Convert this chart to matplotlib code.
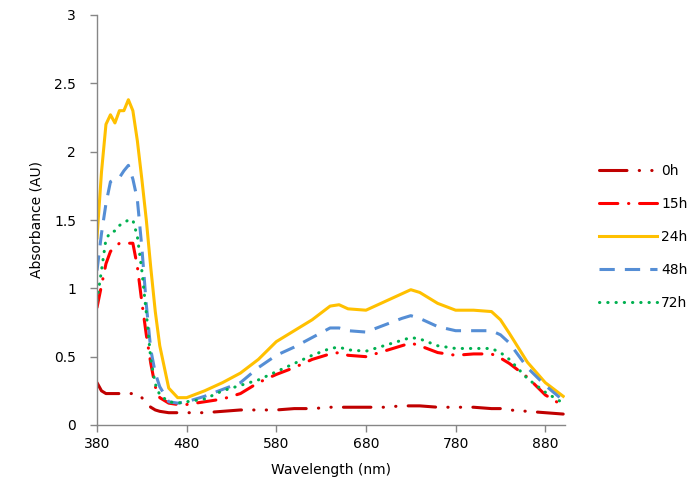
import matplotlib
matplotlib.use("Agg")
import matplotlib.pyplot as plt

# absorbance spectra sampled over the visible range
wavelength = [380, 385, 390, 395, 400, 405, 410, 415, 420, 425, 430, 435, 440, 445,
              450, 460, 470, 480, 500, 520, 540, 560, 580, 600, 620, 640, 650, 660,
              680, 700, 720, 730, 740, 760, 780, 800, 820, 830, 840, 860, 880, 900]

abs_0h = [0.31, 0.25, 0.23, 0.23, 0.23, 0.23, 0.23, 0.23, 0.23, 0.23, 0.20, 0.16, 0.13, 0.11,
          0.10, 0.09, 0.09, 0.09, 0.09, 0.10, 0.11, 0.11, 0.11, 0.12, 0.12, 0.13, 0.13, 0.13,
          0.13, 0.13, 0.14, 0.14, 0.14, 0.13, 0.13, 0.13, 0.12, 0.12, 0.11, 0.10, 0.09, 0.08]
abs_15h = [0.86, 1.02, 1.18, 1.27, 1.30, 1.33, 1.33, 1.33, 1.33, 1.16, 0.90, 0.66, 0.45, 0.28,
           0.20, 0.16, 0.15, 0.15, 0.17, 0.19, 0.23, 0.31, 0.37, 0.42, 0.48, 0.52, 0.53, 0.51,
           0.50, 0.54, 0.58, 0.60, 0.58, 0.53, 0.51, 0.52, 0.52, 0.49, 0.45, 0.35, 0.22, 0.14]
abs_24h = [1.37, 1.85, 2.20, 2.27, 2.21, 2.30, 2.30, 2.38, 2.30, 2.08, 1.80, 1.50, 1.15, 0.83,
           0.58, 0.27, 0.20, 0.20, 0.25, 0.31, 0.38, 0.48, 0.61, 0.69, 0.77, 0.87, 0.88, 0.85,
           0.84, 0.90, 0.96, 0.99, 0.97, 0.89, 0.84, 0.84, 0.83, 0.77, 0.67, 0.46, 0.31, 0.21]
abs_48h = [1.13, 1.40, 1.62, 1.78, 1.80, 1.81, 1.86, 1.90, 1.80, 1.65, 1.30, 0.88, 0.55, 0.38,
           0.28, 0.17, 0.16, 0.17, 0.21, 0.26, 0.31, 0.42, 0.51, 0.57, 0.64, 0.71, 0.71, 0.69,
           0.68, 0.73, 0.78, 0.80, 0.78, 0.72, 0.69, 0.69, 0.69, 0.66, 0.60, 0.42, 0.29, 0.18]
abs_72h = [0.91, 1.13, 1.36, 1.41, 1.42, 1.46, 1.48, 1.50, 1.50, 1.38, 1.13, 0.82, 0.48, 0.30,
           0.22, 0.17, 0.16, 0.17, 0.19, 0.25, 0.29, 0.33, 0.39, 0.45, 0.51, 0.56, 0.57, 0.55,
           0.54, 0.58, 0.62, 0.64, 0.63, 0.58, 0.56, 0.56, 0.56, 0.53, 0.48, 0.34, 0.24, 0.16]

labels = ["0h", "15h", "24h", "48h", "72h"]
series = [abs_0h, abs_15h, abs_24h, abs_48h, abs_72h]
colors = ["#C00000", "#FF0000", "#FFC000", "#558ED5", "#00B050"]
# dash patterns in linewidth units (None = solid)
dashes = [(9, 4, 0.1, 4, 0.1, 4), (6, 3.5, 0.1, 3.5), None, (5, 3.3), (0.1, 2.6)]

plt.rcParams["font.family"] = ["DejaVu Sans"]

fig = plt.figure(figsize=(6.93, 4.95), dpi=100)
ax = fig.add_axes([97 / 693, 1 - 425 / 495, (565 - 97) / 693, (425 - 15) / 495])

for lab, y, c, d in zip(labels, series, colors, dashes):
    line, = ax.plot(wavelength, y, color=c, lw=2.2, label=lab)
    if d is not None:
        line.set_dashes(d)
        line.set_dash_capstyle("round" if 0.1 in d else "butt")

ax.set_xlim(380, 902)
ax.set_ylim(0, 3)
ax.set_xticks([380, 480, 580, 680, 780, 880])
ax.set_yticks([0, 0.5, 1, 1.5, 2, 2.5, 3])
ax.set_yticklabels(["0", "0.5", "1", "1.5", "2", "2.5", "3"])

for side in ("top", "right"):
    ax.spines[side].set_visible(False)
for side in ("left", "bottom"):
    ax.spines[side].set_color("#868686")
    ax.spines[side].set_linewidth(1.0)
ax.tick_params(colors="#868686", labelcolor="black", labelsize=10, length=5, width=1)
ax.tick_params(axis="x", pad=4)
ax.tick_params(axis="y", pad=10)

ax.set_xlabel("Wavelength (nm)", fontsize=10, labelpad=8)
ax.set_ylabel("Absorbance (AU)", fontsize=10, labelpad=8)

fig.legend(loc="center left", bbox_to_anchor=(586 / 693, 1 - 237 / 495),
           frameon=False, fontsize=10, handlelength=4.2, labelspacing=1.38,
           handletextpad=0.3)

fig.savefig("out.png", dpi=100)
